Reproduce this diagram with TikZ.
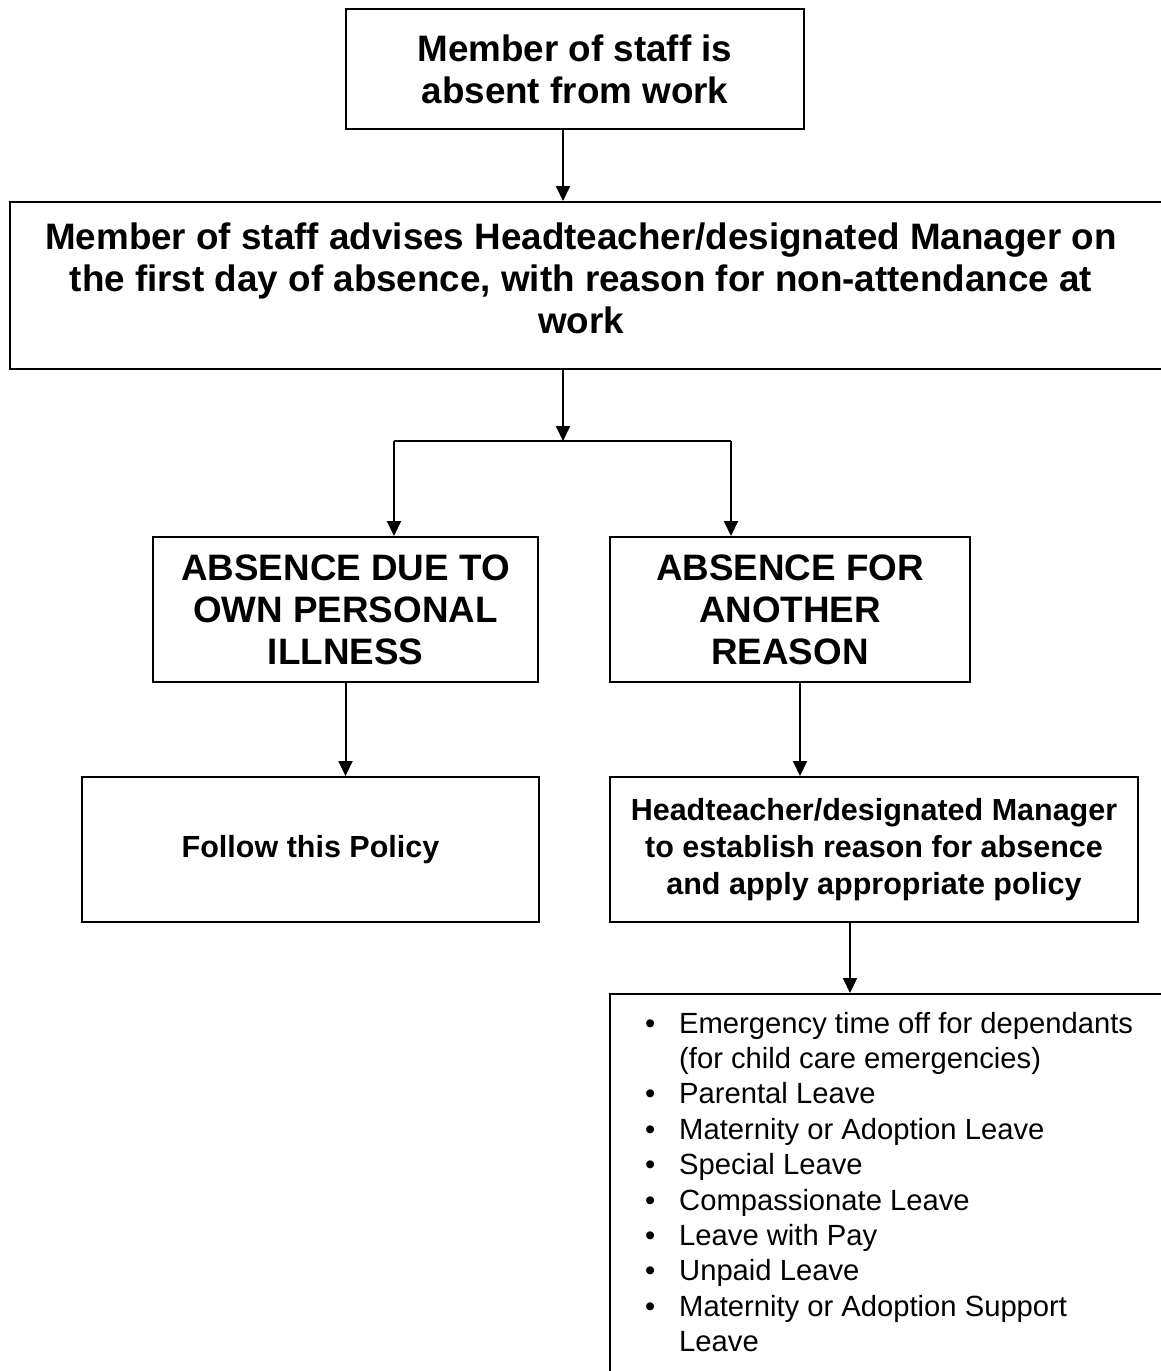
\documentclass[tikz,border=0pt]{standalone}
\usepackage{fontspec}
\setmainfont{Liberation Sans}
\usetikzlibrary{arrows.meta}
\begin{document}
\begin{tikzpicture}[x=1pt,y=-1pt,
  box/.style={draw=black, line width=2pt, rectangle, inner sep=0pt, align=center},
  arr/.style={line width=2pt, -{Triangle[width=14pt,length=15pt]}},
  ln/.style={line width=2pt},
  big/.style={font=\fontsize{36.8}{42}\selectfont\bfseries},
  mid/.style={font=\fontsize{30.5}{37}\selectfont\bfseries},
  lst/.style={font=\fontsize{29.2}{35.4}\selectfont}]
\useasboundingbox (0,0) rectangle (1160,1371);
\fill[white] (0,0) rectangle (1160,1371);

\node[box, big, minimum width=458pt, minimum height=120pt] (b1) at (575,69) {Member of staff is\\absent from work};
\node[box, minimum width=1170pt, minimum height=167pt] (b2) at (595,285.5) {};
\node[big, align=center, inner sep=0pt] (b2t) at (581,278) {Member of staff advises Headteacher/designated Manager on\\the first day of absence, with reason for non-attendance at\\work};
\node[box, big, minimum width=385pt, minimum height=145pt] (b3) at (345.5,609.5) {ABSENCE DUE TO\\OWN PERSONAL\\ILLNESS};
\node[box, big, minimum width=360pt, minimum height=145pt] (b4) at (790,609.5) {ABSENCE FOR\\ANOTHER\\REASON};
\node[box, mid, minimum width=457pt, minimum height=145pt] (b5) at (310.5,849.5) {Follow this Policy};
\node[box, mid, minimum width=528pt, minimum height=145pt] (b6) at (874,849.5) {Headteacher/designated Manager\\to establish reason for absence\\and apply appropriate policy};
\node[box, minimum width=570pt, minimum height=406pt] (b7) at (895,1197) {};
\node[lst, anchor=base west, inner sep=0pt] (b7t) at (645,1033) {\begin{tabular}[t]{@{}p{34pt}@{}l@{}}
• & Emergency time off for dependants\\
  & (for child care emergencies)\\
• & Parental Leave\\
• & Maternity or Adoption Leave\\
• & Special Leave\\
• & Compassionate Leave\\
• & Leave with Pay\\
• & Unpaid Leave\\
• & Maternity or Adoption Support\\
  & Leave
\end{tabular}};

\coordinate (j) at (563,441);
\coordinate (jl) at (394,441);
\coordinate (jr) at (731,441);
\coordinate (k) at (800,0);
\coordinate (m) at (850,0);
\draw[arr] (b1.south -| j) -- (b2.north -| j);
\draw[arr] (b2.south -| j) -- (j);
\draw[ln] (jl) -- (jr);
\draw[arr] (jl) -- (jl |- b3.north);
\draw[arr] (jr) -- (jr |- b4.north);
\draw[arr] (b3.south) -- (b3.south |- b5.north);
\draw[arr] (b4.south -| k) -- (b6.north -| k);
\draw[arr] (b6.south -| m) -- (b7.north -| m);
\end{tikzpicture}
\end{document}
